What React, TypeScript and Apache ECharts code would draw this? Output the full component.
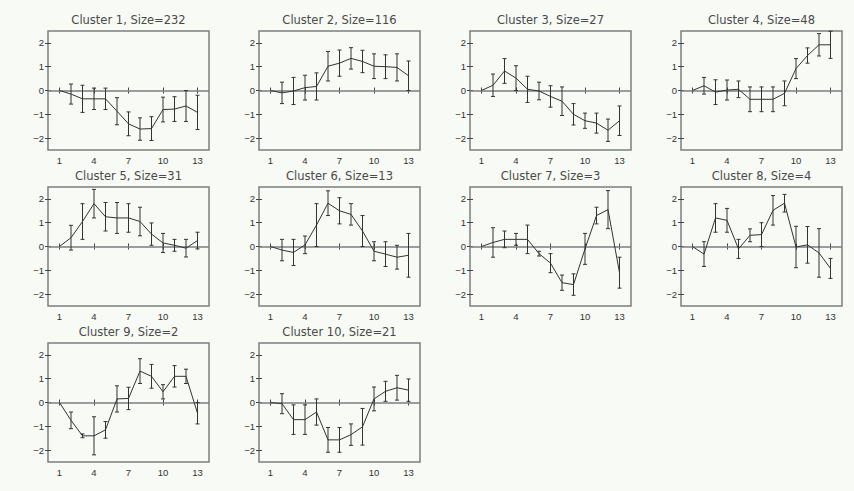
import React, { useEffect, useRef } from "react";
import * as echarts from "echarts";

// ---- data ----
const timePoints = [1, 2, 3, 4, 5, 6, 7, 8, 9, 10, 11, 12, 13];
const xTickValues = [1, 4, 7, 10, 13];
const yTickValues = [-2, -1, 0, 1, 2];
const clusterSizes = [232, 116, 27, 48, 31, 13, 3, 4, 2, 21];

const means1 = [0, -0.15, -0.35, -0.35, -0.35, -0.87, -1.4, -1.62, -1.6, -0.8, -0.78, -0.65, -0.92];
const errors1 = [0, 0.42, 0.57, 0.45, 0.45, 0.57, 0.5, 0.47, 0.5, 0.52, 0.52, 0.65, 0.72];
const means2 = [0, -0.1, -0.02, 0.12, 0.17, 1.02, 1.15, 1.35, 1.22, 1.02, 1.0, 0.97, 0.62];
const errors2 = [0, 0.45, 0.57, 0.52, 0.57, 0.62, 0.55, 0.45, 0.47, 0.52, 0.5, 0.57, 0.62];
const means3 = [0, 0.22, 0.82, 0.52, 0.05, -0.02, -0.25, -0.45, -1.0, -1.27, -1.37, -1.67, -1.27];
const errors3 = [0, 0.47, 0.52, 0.52, 0.55, 0.37, 0.45, 0.6, 0.45, 0.32, 0.42, 0.47, 0.62];
const means4 = [0, 0.2, -0.07, 0.02, 0.05, -0.37, -0.37, -0.37, -0.12, 0.92, 1.47, 1.92, 1.92];
const errors4 = [0, 0.35, 0.52, 0.42, 0.35, 0.52, 0.52, 0.52, 0.52, 0.42, 0.32, 0.47, 0.57];
const means5 = [0, 0.37, 1.05, 1.8, 1.25, 1.2, 1.2, 1.05, 0.52, 0.15, 0.05, -0.07, 0.25];
const errors5 = [0, 0.52, 0.75, 0.6, 0.6, 0.65, 0.6, 0.6, 0.47, 0.4, 0.25, 0.37, 0.35];
const means6 = [0, -0.15, -0.25, 0.07, 0.9, 1.82, 1.5, 1.35, 0.65, -0.2, -0.32, -0.45, -0.37];
const errors6 = [0, 0.45, 0.55, 0.37, 0.9, 0.52, 0.55, 0.45, 0.65, 0.4, 0.52, 0.5, 0.92];
const means7 = [0, 0.17, 0.3, 0.3, 0.3, -0.3, -0.7, -1.52, -1.6, -0.1, 1.3, 1.55, -1.1];
const errors7 = [0, 0.62, 0.35, 0.25, 0.6, 0.1, 0.4, 0.32, 0.45, 0.65, 0.35, 0.8, 0.65];
const means8 = [0, -0.32, 1.2, 1.1, -0.1, 0.47, 0.5, 1.52, 1.82, -0.02, 0.07, -0.27, -0.92];
const errors8 = [0, 0.52, 0.6, 0.5, 0.4, 0.27, 0.5, 0.62, 0.37, 0.87, 0.77, 1.02, 0.42];
const means9 = [0, -0.75, -1.4, -1.4, -1.15, 0.15, 0.17, 1.32, 1.1, 0.45, 1.1, 1.1, -0.45];
const errors9 = [0, 0.35, 0.08, 0.8, 0.35, 0.55, 0.47, 0.52, 0.5, 0.3, 0.45, 0.3, 0.45];
const means10 = [0, -0.05, -0.72, -0.72, -0.4, -1.57, -1.57, -1.35, -1.02, 0.15, 0.47, 0.62, 0.52];
const errors10 = [0, 0.42, 0.62, 0.62, 0.55, 0.52, 0.52, 0.45, 0.77, 0.5, 0.42, 0.52, 0.47];

const clusterMeans = [means1, means2, means3, means4, means5, means6, means7, means8, means9, means10];
const clusterErrors = [errors1, errors2, errors3, errors4, errors5, errors6, errors7, errors8, errors9, errors10];

// ---- layout ----
const COL_LEFT = [48, 259, 470, 681];
const ROW_TOP = [31, 187, 343];
const PANEL_W = 161;
const PANEL_H = 119;
const BG = "#f7faf5";
const TICK_FONT = "Liberation Sans";
const TITLE_FONT = "DejaVu Sans";

const minus = (v: number) => String(v).replace("-", "\u2212");

function buildOption() {
  const grid: any[] = [];
  const xAxis: any[] = [];
  const yAxis: any[] = [];
  const series: any[] = [];
  const title: any[] = [];

  clusterMeans.forEach((means, i) => {
    const left = COL_LEFT[i % 4];
    const top = ROW_TOP[Math.floor(i / 4)];
    grid.push({
      left,
      top,
      width: PANEL_W,
      height: PANEL_H,
      show: true,
      borderColor: "#7d7d7d",
      borderWidth: 1.5,
      backgroundColor: "transparent",
      containLabel: false,
    });
    title.push({
      text: `Cluster ${i + 1}, Size=${clusterSizes[i]}`,
      left: left + PANEL_W / 2,
      top: top - 17,
      padding: 0,
      textAlign: "center",
      textStyle: { fontFamily: TITLE_FONT, fontSize: 11.5, fontWeight: "normal", color: "#4a4a4a" },
    });
    const tick = { show: true, inside: true, length: 3, lineStyle: { color: "#444", width: 1 } };
    const xBase = {
      type: "value",
      gridIndex: i,
      min: 0,
      max: 14,
      axisLine: { show: false },
      splitLine: { show: false },
    };
    xAxis.push({
      ...xBase,
      position: "bottom",
      axisTick: { ...tick, customValues: xTickValues },
      axisLabel: { customValues: xTickValues, fontFamily: TICK_FONT, fontSize: 9.5, color: "#333", margin: 5 },
    });
    xAxis.push({
      ...xBase,
      position: "top",
      axisTick: { ...tick, customValues: xTickValues },
      axisLabel: { show: false },
    });
    const yBase = {
      type: "value",
      gridIndex: i,
      min: -2.5,
      max: 2.5,
      axisLine: { show: false },
      splitLine: { show: false },
    };
    yAxis.push({
      ...yBase,
      position: "left",
      axisTick: { ...tick, customValues: yTickValues },
      axisLabel: {
        customValues: yTickValues,
        fontFamily: TICK_FONT,
        fontSize: 9.5,
        color: "#333",
        margin: 4,
        formatter: (v: number) => minus(v),
      },
    });
    yAxis.push({
      ...yBase,
      position: "right",
      axisTick: { ...tick, customValues: yTickValues },
      axisLabel: { show: false },
    });

    const errs = clusterErrors[i];
    series.push({
      type: "line",
      xAxisIndex: 2 * i,
      yAxisIndex: 2 * i,
      data: timePoints.map((t, j) => [t, means[j]]),
      symbol: "none",
      lineStyle: { color: "#333", width: 1 },
      z: 3,
      markLine: {
        silent: true,
        symbol: "none",
        label: { show: false },
        lineStyle: { color: "#7d7d7d", width: 1.5, type: "solid" },
        data: [{ yAxis: 0 }],
        z: 1,
      },
    });
    series.push({
      type: "custom",
      xAxisIndex: 2 * i,
      yAxisIndex: 2 * i,
      z: 4,
      data: timePoints
        .map((t, j) => [t, means[j] - errs[j], means[j] + errs[j], errs[j]])
        .filter((d) => d[3] > 0),
      encode: { x: 0, y: [1, 2] },
      renderItem: (params: any, api: any) => {
        const x = api.value(0);
        const lo = api.coord([x, api.value(1)]);
        const hi = api.coord([x, api.value(2)]);
        const c = 2;
        const style = { stroke: "#333", lineWidth: 1 };
        return {
          type: "group",
          children: [
            { type: "line", shape: { x1: lo[0], y1: lo[1], x2: hi[0], y2: hi[1] }, style },
            { type: "line", shape: { x1: lo[0] - c, y1: lo[1], x2: lo[0] + c, y2: lo[1] }, style },
            { type: "line", shape: { x1: hi[0] - c, y1: hi[1], x2: hi[0] + c, y2: hi[1] }, style },
          ],
        };
      },
    });
  });

  return { animation: false, backgroundColor: BG, title, grid, xAxis, yAxis, series };
}

export default function App() {
  const ref = useRef<HTMLDivElement>(null);
  useEffect(() => {
    if (!ref.current) return;
    const chart = echarts.init(ref.current, undefined, { renderer: "svg" });
    chart.setOption(buildOption() as any);
    return () => chart.dispose();
  }, []);
  return (
    <div
      ref={ref}
      style={{ position: "fixed", left: 0, top: 0, width: 854, height: 491, background: BG }}
    />
  );
}
